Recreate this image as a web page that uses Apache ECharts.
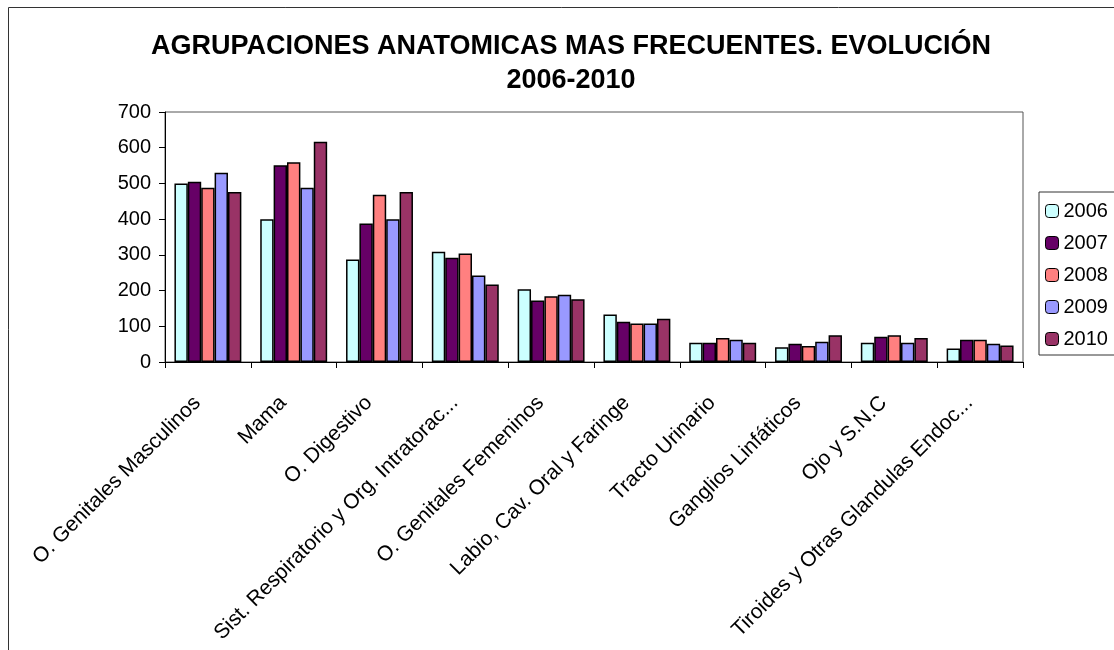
<!DOCTYPE html>
<html>
<head>
<meta charset="utf-8">
<script src="https://cdn.jsdelivr.net/npm/echarts@6/dist/echarts.min.js"></script>
<style>
  html, body { margin: 0; padding: 0; background: #fff; }
  #chart { width: 1114px; height: 650px; }
</style>
</head>
<body>
<div id="chart"></div>
<script>
const categories = [
    'O. Genitales Masculinos',
    'Mama',
    'O. Digestivo',
    'Sist. Respiratorio y Org. Intratorac...',
    'O. Genitales Femeninos',
    'Labio, Cav. Oral y Faringe',
    'Tracto Urinario',
    'Ganglios Linfáticos',
    'Ojo y S.N.C',
    'Tiroides y Otras Glandulas Endoc...'
];
const years = ['2006', '2007', '2008', '2009', '2010'];
const v2006 = [500, 400, 287, 309, 204, 133, 54, 41, 54, 38];
const v2007 = [505, 551, 388, 292, 172, 113, 54, 51, 71, 62];
const v2008 = [488, 559, 468, 304, 184, 108, 67, 45, 75, 62];
const v2009 = [530, 488, 400, 242, 188, 108, 62, 57, 54, 51];
const v2010 = [476, 617, 476, 217, 176, 121, 54, 75, 67, 46];
const colors = ['#CCFFFF', '#660066', '#FF8080', '#9999FF', '#993366'];

window.addEventListener('load', function () {
    const chart = echarts.init(document.getElementById('chart'));
    const font = 'Liberation Sans, Arial, sans-serif';
    const allValues = [v2006, v2007, v2008, v2009, v2010];

    const series = years.map(function (y, i) {
        return {
            name: y,
            type: 'bar',
            data: allValues[i],
            barGap: '0%',
            barCategoryGap: '22%',
            itemStyle: {
                color: colors[i],
                borderColor: '#000',
                borderWidth: 1.5
            }
        };
    });

    const option = {
        animation: false,
        backgroundColor: '#fff',
        title: {
            text: 'AGRUPACIONES ANATOMICAS MAS FRECUENTES. EVOLUCIÓN\n2006-2010',
            left: 566,
            top: 25,
            textAlign: 'center',
            textStyle: {
                fontFamily: font,
                fontSize: 27,
                fontWeight: 'bold',
                color: '#000',
                lineHeight: 34,
                align: 'center'
            }
        },
        graphic: [{
            type: 'rect',
            shape: { x: 8.5, y: 7.5, width: 1200, height: 800 },
            style: { fill: 'none', stroke: '#333', lineWidth: 1 },
            silent: true
        }],
        legend: {
            orient: 'vertical',
            left: 1039,
            top: 192,
            padding: [9, 60, 6, 6],
            itemGap: 12,
            itemWidth: 13,
            itemHeight: 13,
            itemStyle: { borderColor: '#000', borderWidth: 1 },
            borderColor: '#333',
            borderWidth: 1,
            textStyle: { fontFamily: font, fontSize: 20, color: '#000' },
            data: years
        },
        grid: {
            left: 165,
            top: 112,
            right: 91,
            bottom: 288,
            show: true,
            borderColor: '#555',
            borderWidth: 1
        },
        xAxis: {
            type: 'category',
            data: categories,
            axisLine: { lineStyle: { color: '#000', width: 1 } },
            axisTick: { show: true, length: 6, lineStyle: { color: '#000' } },
            axisLabel: {
                interval: 0,
                rotate: 45,
                margin: 27,
                padding: [0, 15, 0, 0],
                fontFamily: font,
                fontSize: 21,
                color: '#000'
            }
        },
        yAxis: {
            type: 'value',
            min: 0,
            max: 700,
            interval: 100,
            splitLine: { show: false },
            axisLine: { show: true, lineStyle: { color: '#000', width: 1 } },
            axisTick: { show: true, length: 6, lineStyle: { color: '#000' } },
            axisLabel: {
                margin: 14,
                fontFamily: font,
                fontSize: 20,
                color: '#000'
            }
        },
        series: series
    };
    chart.setOption(option);
});
</script>
</body>
</html>
